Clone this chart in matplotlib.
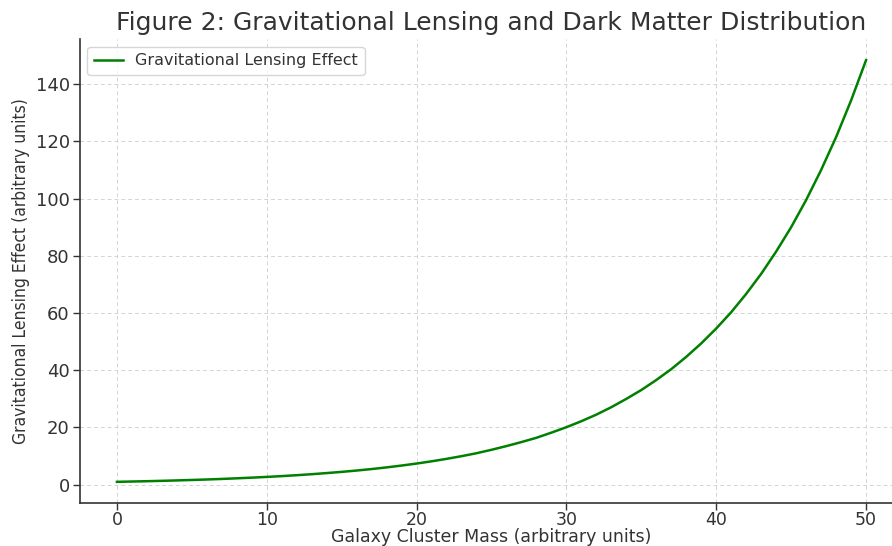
import matplotlib
matplotlib.use("Agg")
import matplotlib.pyplot as plt

# galaxy cluster mass (x) and lensing effect (y)
mass = list(range(0, 51))
lensing = [
    1.00, 1.11, 1.22, 1.35, 1.49, 1.65, 1.82, 2.01, 2.23, 2.46,
    2.72, 3.00, 3.32, 3.67, 4.06, 4.48, 4.95, 5.47, 6.05, 6.69,
    7.39, 8.17, 9.03, 9.97, 11.0, 12.2, 13.5, 14.9, 16.4, 18.2,
    20.1, 22.2, 24.5, 27.1, 30.0, 33.1, 36.6, 40.4, 44.7, 49.4,
    54.6, 60.3, 66.7, 73.7, 81.5, 90.0, 99.5, 110.0, 121.5, 134.3,
    148.4,
]

text_color = "#333333"
plt.rcParams["text.color"] = text_color
plt.rcParams["axes.labelcolor"] = text_color
plt.rcParams["xtick.color"] = text_color
plt.rcParams["ytick.color"] = text_color

fig = plt.figure(figsize=(8.92, 5.46), dpi=100)
ax = fig.add_axes([79.5 / 892, 43 / 546, 824 / 892, 464 / 546])

ax.plot(mass, lensing, color="green", linewidth=1.8, label="Gravitational Lensing Effect")
ax.set_xlim(-2.5, 52.5)
ax.set_ylim(-6.4, 155.8)

# light, finely dashed grid like the reference
ax.grid(True, linestyle=(0, (4, 3)), color="#d4d4d4", linewidth=0.7)
for side in ["top", "right"]:
    ax.spines[side].set_visible(False)
for side in ["left", "bottom"]:
    ax.spines[side].set_color("#333333")
    ax.spines[side].set_linewidth(1.2)

ax.tick_params(labelsize=13, length=5, width=1, pad=2)
ax.tick_params(axis="x", labelsize=12.5, pad=1)
ax.set_xlabel("Galaxy Cluster Mass (arbitrary units)", fontsize=12.5, va="center")
# pull the x label up so it sits inside the image like the reference
ax.xaxis.set_label_coords(0.5, -34 / 464)
ax.set_ylabel("Gravitational Lensing Effect (arbitrary units)", fontsize=12.5,
              fontstretch="condensed")
fig.text(0.551, 0.958, "Figure 2: Gravitational Lensing and Dark Matter Distribution",
         fontsize=18, ha="center", va="center")
ax.legend(loc="upper left", fontsize=11.5, handlelength=1.8)

fig.savefig("out.png", dpi=100)
